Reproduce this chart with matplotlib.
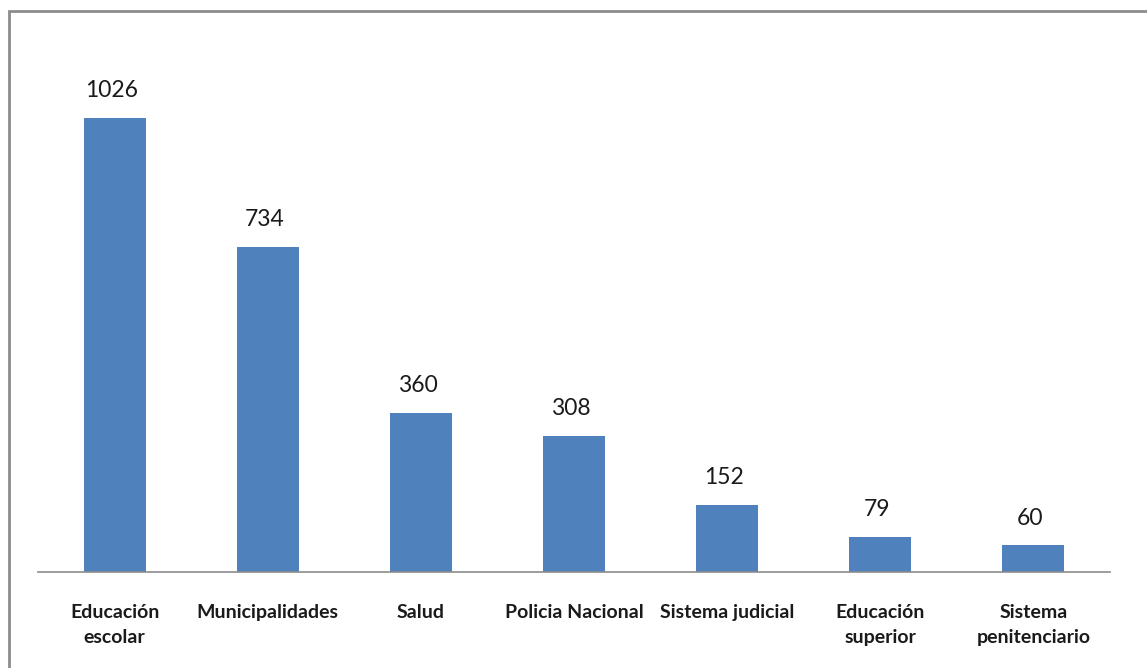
import matplotlib.pyplot as plt
from matplotlib.patches import Rectangle

categories = ["Educación\nescolar", "Municipalidades", "Salud", "Policia Nacional",
              "Sistema judicial", "Educación\nsuperior", "Sistema\npenitenciario"]
values = [1026, 734, 360, 308, 152, 79, 60]

fig = plt.figure(figsize=(11.47, 6.68), dpi=100)
fig.patch.set_facecolor("white")

# outer frame (cut off at right and bottom like the screenshot)
fig.patches.append(Rectangle((9 / 1147, -0.05), 1.2, 657 / 668 + 0.05,
                             transform=fig.transFigure, fill=False,
                             edgecolor="#8c8c8c", linewidth=2))

ax = fig.add_axes([38 / 1147, 96 / 668, 1072 / 1147, 531 / 668])
x = range(len(values))
bars = ax.bar(x, values, width=0.405, color="#4f81bd")
ax.set_xlim(-0.5, len(values) - 0.5)
ax.set_ylim(0, 1200)

for b, v in zip(bars, values):
    ax.text(b.get_x() + b.get_width() / 2 - 0.02, v + 38, str(v), ha="center", va="bottom",
            fontsize=16.5, family="Lato", color="#1a1a1a")

ax.set_xticks(list(x))
ax.set_xticklabels(categories, fontsize=14, family="Lato", fontweight="bold",
                   linespacing=1.55, color="#1a1a1a")
ax.tick_params(axis="x", length=0, pad=23)
ax.set_yticks([])
for s in ["top", "right", "left"]:
    ax.spines[s].set_visible(False)
ax.spines["bottom"].set_color("#8c8c8c")
ax.spines["bottom"].set_linewidth(1.2)

fig.savefig("out.png", dpi=100)
